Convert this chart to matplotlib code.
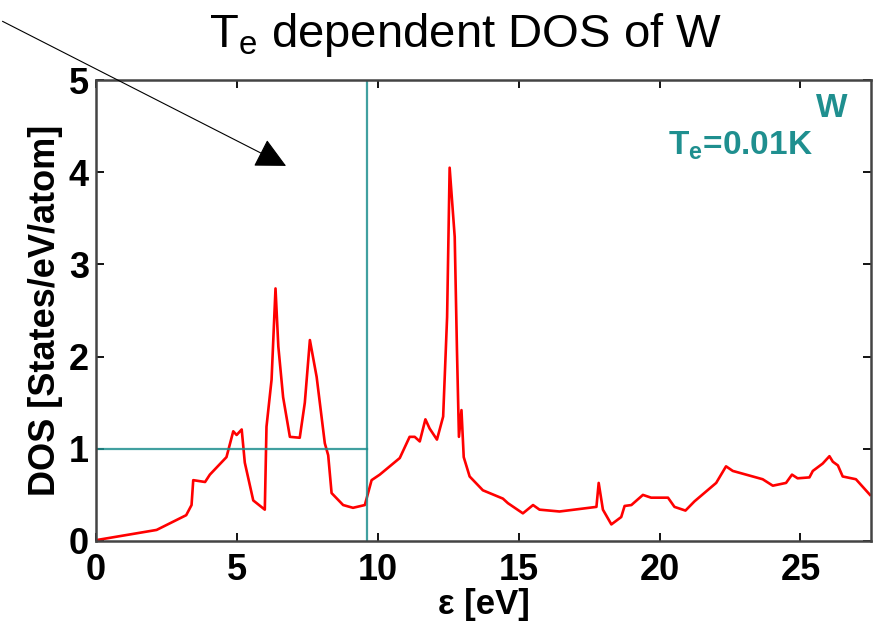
import matplotlib.pyplot as plt
from matplotlib.patches import FancyArrowPatch

# DOS of tungsten at Te = 0.01 K, energies in eV
energy = [0.02, 2.15, 3.2, 3.39, 3.45, 3.87, 4.04, 4.63, 4.87, 4.99, 5.17, 5.28,
          5.58, 5.99, 6.05, 6.23, 6.37, 6.47, 6.64, 6.88, 7.23, 7.41, 7.59, 7.83,
          8.12, 8.24, 8.36, 8.77, 9.12, 9.54, 9.78, 10.07, 10.78, 11.13, 11.31,
          11.49, 11.69, 11.84, 12.10, 12.32, 12.46, 12.55, 12.73, 12.81, 12.88,
          12.97, 13.05, 13.26, 13.73, 14.44, 14.62, 15.15, 15.51, 15.74, 16.45,
          17.76, 17.84, 17.99, 18.29, 18.64, 18.76, 19.0, 19.41, 19.70, 20.30,
          20.53, 20.92, 21.24, 22.01, 22.36, 22.60, 23.66, 24.02, 24.49, 24.70,
          24.90, 25.32, 25.44, 25.79, 26.03, 26.15, 26.33, 26.5, 26.97, 27.47]
dos = [0.01, 0.12, 0.28, 0.39, 0.66, 0.64, 0.72, 0.91, 1.19, 1.15, 1.21, 0.85,
       0.44, 0.34, 1.24, 1.75, 2.74, 2.11, 1.56, 1.13, 1.12, 1.50, 2.18, 1.78,
       1.06, 0.93, 0.52, 0.39, 0.36, 0.39, 0.66, 0.72, 0.90, 1.13, 1.13,
       1.08, 1.32, 1.22, 1.10, 1.35, 2.43, 4.05, 3.30, 2.07, 1.13,
       1.42, 0.91, 0.70, 0.55, 0.46, 0.41, 0.30, 0.39, 0.34, 0.32,
       0.37, 0.63, 0.34, 0.18, 0.26, 0.38, 0.39, 0.50, 0.47, 0.47,
       0.37, 0.33, 0.43, 0.63, 0.81, 0.76, 0.67, 0.60, 0.63, 0.72,
       0.68, 0.69, 0.76, 0.84, 0.92, 0.86, 0.82, 0.70, 0.67, 0.50]

e_fermi = 9.61
dos_fermi = 1.0
teal = '#1f8f8f'

plt.rcParams['font.family'] = ['Liberation Sans', 'DejaVu Sans']
plt.rcParams['mathtext.fontset'] = 'custom'
plt.rcParams['mathtext.rm'] = 'Liberation Sans'
plt.rcParams['mathtext.bf'] = 'Liberation Sans:bold'

fig = plt.figure(figsize=(8.77, 6.26), dpi=100)
ax = fig.add_axes([0.1095, 0.1358, 0.8835, 0.7362])

ax.plot(energy, dos, color='red', lw=1.9, solid_joinstyle='round')
ax.axvline(e_fermi, color=teal, lw=1.6, alpha=0.85)
ax.plot([0, e_fermi], [dos_fermi, dos_fermi], color=teal, lw=1.6, alpha=0.85)

ax.set_xlim(0, 27.5)
ax.set_ylim(0, 5)
ax.set_xticks([0, 5, 10, 15, 20, 25])
ax.set_yticks([0, 1, 2, 3, 4, 5])
ax.tick_params(direction='in', top=True, right=True, length=6, width=1.3,
               labelsize=26)
ax.tick_params(axis='x', pad=9)
ax.tick_params(axis='y', pad=5)
for lab in ax.get_xticklabels() + ax.get_yticklabels():
    lab.set_fontweight('bold')
for sp in ax.spines.values():
    sp.set_linewidth(1.8)
    sp.set_color('#444444')

ax.set_xlabel('ε [eV]', fontsize=25, fontweight='bold', labelpad=0)
ax.set_ylabel('DOS [States/eV/atom]', fontsize=26, fontweight='bold', labelpad=4)

ax.text(0.97, 0.92, 'W', transform=ax.transAxes, color=teal,
        fontsize=24, fontweight='bold', ha='right', va='baseline')
ax.text(0.925, 0.839, r'T$_\mathbf{e}$=0.01K', transform=ax.transAxes, color=teal,
        fontsize=24, fontweight='bold', ha='right', va='baseline')

fig.text(0.531, 0.925, r'T$_\mathrm{e}$ dependent DOS of W', fontsize=34,
         ha='center', va='baseline')

# pointer arrow from the upper left corner
fig.add_artist(FancyArrowPatch(
    (0.0, 0.968), (0.329, 0.733), transform=fig.transFigure,
    arrowstyle='-|>', mutation_scale=48, color='black', lw=0.8))

fig.savefig('out.png')
